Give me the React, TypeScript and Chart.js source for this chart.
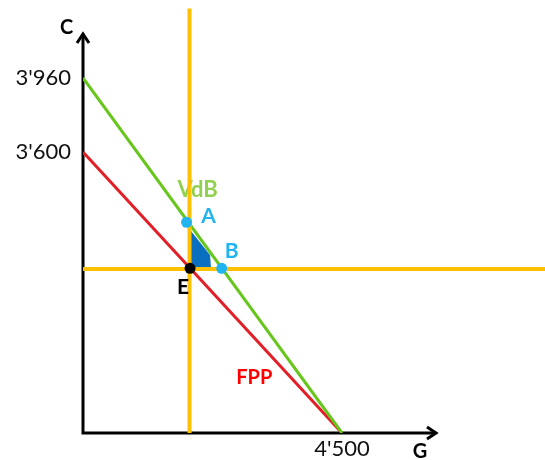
import { useEffect, useRef } from 'react';
import { Chart, registerables, LinearScale } from 'chart.js';

// Production-possibility frontier (FPP): consumption good C against public good G
const fppG = [0, 4500];
const fppC = [3600, 0];

// Trade line (VdB)
const vdbG = [0, 4500];
const vdbC = [3960, 0];

// Marked points: A and B on the trade line, E on the frontier
const pointNames = ['A', 'B', 'E'];
const pointG = [1800, 2410, 1860];
const pointC = [2700, 2110, 2110];

// Reference lines through E
const refG = 1850;
const refC = 2100;
const refTopC = 4300;
const refRightG = 8100;

// Gain region bounded by the reference lines and the trade line
const gainG = [1876, 2207, 2224, 1876];
const gainC = [2588, 2280, 2114, 2114];

// Axis ticks
const cTicks = [3600, 3960];
const gTicks = [4500];

// The C axis is drawn not to scale: each [value, share of axis height] pair is a stop
const C_AXIS_STOPS: [number, number][] = [
  [0, 0],
  [3600, 0.7025],
  [3960, 0.8875],
  [4180, 1],
];

class SketchScale extends LinearScale {
  static id = 'sketch';
  static defaults = LinearScale.defaults;

  toDecimal(v: number) {
    const s = C_AXIS_STOPS;
    let i = 1;
    while (i < s.length - 1 && v > s[i][0]) i++;
    const [v0, d0] = s[i - 1];
    const [v1, d1] = s[i];
    return d0 + ((v - v0) * (d1 - d0)) / (v1 - v0);
  }

  fromDecimal(d: number) {
    const s = C_AXIS_STOPS;
    let i = 1;
    while (i < s.length - 1 && d > s[i][1]) i++;
    const [v0, d0] = s[i - 1];
    const [v1, d1] = s[i];
    return v0 + ((d - d0) * (v1 - v0)) / (d1 - d0);
  }

  getPixelForValue(value: number) {
    return this.getPixelForDecimal(this.toDecimal(value));
  }

  getValueForPixel(pixel: number) {
    return this.fromDecimal(this.getDecimalForPixel(pixel));
  }
}

Chart.register(...registerables, SketchScale);

const FONT = 'Lato, "Open Sans", sans-serif';
const YELLOW = '#FFC000';
const GREEN = '#66C61C';
const RED = '#E21F26';
const LIGHT_BLUE = '#22B4F0';
const DARK_BLUE = '#0B6FBF';

const xy = (gs: number[], cs: number[]) => gs.map((g, i) => ({ x: g, y: cs[i] }));

const lineAt = (gs: number[], cs: number[], g: number) =>
  cs[0] + ((g - gs[0]) * (cs[1] - cs[0])) / (gs[1] - gs[0]);

const groupThousands = (v: number) => String(v).replace(/\B(?=(\d{3})+(?!\d))/g, "'");

function drawText(
  ctx: CanvasRenderingContext2D,
  text: string,
  cx: number,
  cy: number,
  color: string,
  size: number,
  bold = true,
) {
  ctx.save();
  ctx.font = `${bold ? 'bold ' : ''}${size}px ${FONT}`;
  ctx.fillStyle = color;
  ctx.textAlign = 'center';
  ctx.textBaseline = 'alphabetic';
  ctx.fillText(text, cx, cy + size * 0.36);
  ctx.restore();
}

// Axes with arrowheads
const axesPlugin = {
  id: 'arrowAxes',
  beforeDatasetsDraw(chart: any) {
    const { ctx, chartArea } = chart;
    const { left, right, top, bottom } = chartArea;
    ctx.save();
    ctx.strokeStyle = '#000';
    ctx.lineWidth = 3;
    ctx.lineJoin = 'miter';
    ctx.lineCap = 'butt';
    ctx.beginPath();
    ctx.moveTo(left, top + 1);
    ctx.lineTo(left, bottom);
    ctx.lineTo(right - 1, bottom);
    ctx.stroke();
    ctx.beginPath();
    ctx.moveTo(left - 6, top + 10);
    ctx.lineTo(left, top + 1);
    ctx.lineTo(left + 6, top + 10);
    ctx.stroke();
    ctx.beginPath();
    ctx.moveTo(right - 10, bottom - 6);
    ctx.lineTo(right - 1, bottom);
    ctx.lineTo(right - 10, bottom + 6);
    ctx.stroke();
    ctx.restore();

    drawText(ctx, 'C', left - 16.5, top - 6, '#000', 20);
    drawText(ctx, 'G', right - 17, bottom + 18, '#000', 20);

    // Trade line name sits beneath the reference lines
    const xs = chart.scales.x;
    const ys = chart.scales.y;
    const ax = xs.getPixelForValue(pointG[0]);
    const ay = ys.getPixelForValue(pointC[0]);
    drawText(ctx, 'VdB', ax + 11, ay - 33, '#92D050', 22);
  },
  afterDatasetsDraw(chart: any) {
    const { ctx } = chart;
    const xs = chart.scales.x;
    const ys = chart.scales.y;
    const offsets: Record<string, [number, number, string]> = {
      A: [22, -7, LIGHT_BLUE],
      B: [10, -18, LIGHT_BLUE],
      E: [-7, 18, '#000'],
    };
    pointNames.forEach((name, i) => {
      const px = xs.getPixelForValue(pointG[i]);
      const py = ys.getPixelForValue(pointC[i]);
      const [dx, dy, color] = offsets[name];
      drawText(ctx, name, px + dx, py + dy, color, 21);
    });
    const fg = 3600;
    const fx = xs.getPixelForValue(fg);
    const fy = ys.getPixelForValue(lineAt(fppG, fppC, fg));
    drawText(ctx, 'FPP', fx - 36, fy, '#FF0000', 20);
  },
};

export default function App() {
  const canvasRef = useRef<HTMLCanvasElement | null>(null);

  useEffect(() => {
    document.body.style.margin = '0';
    const canvas = canvasRef.current;
    if (!canvas) return;

    const chart = new Chart(canvas, {
      type: 'line',
      data: {
        datasets: [
          {
            label: 'A, B',
            data: xy(pointG.slice(0, 2), pointC.slice(0, 2)),
            showLine: false,
            pointRadius: 5.5,
            pointBackgroundColor: LIGHT_BLUE,
            pointBorderWidth: 0,
            order: 0,
          },
          {
            label: 'E',
            data: xy(pointG.slice(2), pointC.slice(2)),
            showLine: false,
            pointRadius: 5.5,
            pointBackgroundColor: '#000',
            pointBorderWidth: 0,
            order: 0,
          },
          {
            label: 'G through E',
            data: [
              { x: refG, y: 0 },
              { x: refG, y: refTopC },
            ],
            borderColor: YELLOW,
            borderWidth: 4,
            pointRadius: 0,
            clip: false,
            order: 1,
          },
          {
            label: 'C through E',
            data: [
              { x: 0, y: refC },
              { x: refRightG, y: refC },
            ],
            borderColor: YELLOW,
            borderWidth: 4,
            pointRadius: 0,
            clip: false,
            order: 1,
          },
          {
            label: 'VdB',
            data: xy(vdbG, vdbC),
            borderColor: GREEN,
            borderWidth: 3,
            pointRadius: 0,
            order: 2,
          },
          {
            label: 'FPP',
            data: xy(fppG, fppC),
            borderColor: RED,
            borderWidth: 3,
            pointRadius: 0,
            order: 2,
          },
          {
            label: 'gain',
            data: xy(gainG, gainC),
            borderWidth: 0,
            borderColor: DARK_BLUE,
            backgroundColor: DARK_BLUE,
            fill: 'shape',
            pointRadius: 0,
            order: 3,
          },
        ],
      },
      options: {
        animation: false,
        responsive: false,
        devicePixelRatio: 1,
        layout: { padding: { top: 33, right: 108, left: 0, bottom: 0 } },
        plugins: {
          legend: { display: false },
          tooltip: { enabled: false },
        },
        elements: { line: { tension: 0 } },
        scales: {
          x: {
            type: 'linear',
            min: 0,
            max: 6150,
            grid: { display: false, drawTicks: false },
            border: { display: false },
            afterBuildTicks: (scale: any) => {
              scale.ticks = gTicks.map((v) => ({ value: v }));
            },
            afterFit: (scale: any) => {
              scale.height = 27;
            },
            ticks: {
              padding: 3,
              color: '#111',
              font: { family: FONT, size: 22 },
              maxRotation: 0,
              autoSkip: false,
              callback: (v: any) => groupThousands(Number(v)),
            },
          },
          y: {
            type: 'sketch' as any,
            min: 0,
            max: 4180,
            grid: { display: false, drawTicks: false },
            border: { display: false },
            afterBuildTicks: (scale: any) => {
              scale.ticks = cTicks.map((v) => ({ value: v }));
            },
            afterFit: (scale: any) => {
              scale.width = 83;
            },
            ticks: {
              padding: 12,
              color: '#111',
              font: { family: FONT, size: 22 },
              autoSkip: false,
              callback: (v: any) => groupThousands(Number(v)),
            },
          },
        },
      },
      plugins: [axesPlugin],
    } as any);

    return () => chart.destroy();
  }, []);

  return (
    <div style={{ width: 545, height: 460, background: '#fff' }}>
      <canvas ref={canvasRef} width={545} height={460} style={{ display: 'block' }} />
    </div>
  );
}
